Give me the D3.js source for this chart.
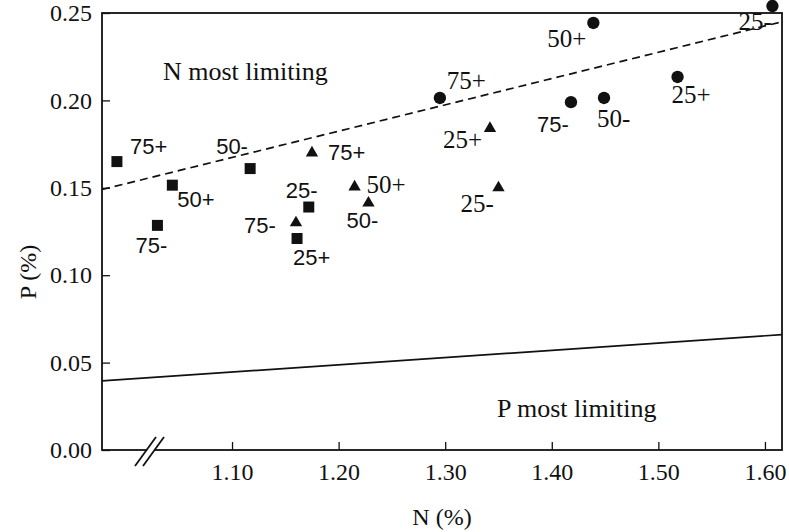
<!DOCTYPE html>
<html>
<head>
<meta charset="utf-8">
<script src="https://cdn.jsdelivr.net/npm/d3@7"></script>
<style>
	body { margin: 0; background: #fff; }
	svg text { fill: #111; }
</style>
</head>
<body>
<div id="chart"></div>
<script>
// data
const squareN = [0.992, 1.044, 1.030, 1.117, 1.172, 1.161]
const squareP = [0.165, 0.1515, 0.1285, 0.161, 0.139, 0.121]
const squareLabel = ['75+', '50+', '75-', '50-', '25-', '25+']

const triN = [1.175, 1.160, 1.215, 1.228, 1.342, 1.350]
const triP = [0.170, 0.130, 0.1505, 0.1413, 0.184, 0.150]
const triLabel = ['75+', '75-', '50+', '50-', '25+', '25-']

const circN = [1.295, 1.439, 1.418, 1.449, 1.518, 1.607]
const circP = [0.2014, 0.2443, 0.199, 0.2014, 0.2134, 0.254]
const circLabel = ['75+', '50+', '75-', '50-', '25+', '25-']

// boundary lines (N:P ratios)
const dashedN = [0.978, 1.616]
const dashedP = [0.149, 0.245]
const solidN = [0.978, 1.616]
const solidP = [0.0395, 0.066]

const xTicks = [1.10, 1.20, 1.30, 1.40, 1.50, 1.60]
const yTicks = [0, 0.05, 0.10, 0.15, 0.20, 0.25]

// label offsets (px) from each marker, keyed shape+label
const labelOffset = {
	'sq75+': [13, -8], 'sq50+': [5, 22], 'sq75-': [-22, 28], 'sq50-': [-34, -15], 'sq25-': [-23, -9], 'sq25+': [-4, 27],
	'tr75+': [16, 7], 'tr75-': [-52, 10], 'tr50+': [12, 6], 'tr50-': [-22, 25], 'tr25+': [-47, 20], 'tr25-': [-38, 24],
	'ci75+': [7, -9], 'ci50+': [-46, 24], 'ci75-': [-34, 30], 'ci50-': [-7, 29], 'ci25+': [-6, 26], 'ci25-': [-34, 24]
}
const serifLabels = ['tr50+', 'tr25+', 'tr25-', 'ci75+', 'ci50+', 'ci50-', 'ci25+', 'ci25-']

const width = 789
const height = 532
const margin = { left: 102, right: 7, top: 13, bottom: 82 }

const svg = d3.select('#chart').append('svg')
	.attr('width', width)
	.attr('height', height)

const x = d3.scaleLinear()
	.domain([0.978, 1.616])
	.range([margin.left, width - margin.right])

const y = d3.scaleLinear()
	.domain([0, 0.25])
	.range([height - margin.bottom, margin.top])

const serif = "'Liberation Serif', 'Times New Roman', serif"
const sans = "'Liberation Sans', Arial, sans-serif"

// axes
const xAxis = svg.append('g')
	.attr('transform', `translate(0,${y(0)})`)
	.call(d3.axisBottom(x).tickValues(xTicks).tickSizeInner(-8).tickSizeOuter(0).tickPadding(13).tickFormat(d3.format('.2f')))
xAxis.select('.domain').remove()

const yAxis = svg.append('g')
	.attr('transform', `translate(${x.range()[0]},0)`)
	.call(d3.axisLeft(y).tickValues(yTicks).tickSizeInner(-8).tickSizeOuter(0).tickPadding(10).tickFormat(d3.format('.2f')))
yAxis.select('.domain').remove()

svg.selectAll('.tick text')
	.style('font-family', serif)
	.style('font-size', '24px')
	.attr('fill', '#111')
svg.selectAll('.tick line').attr('stroke', '#111').attr('stroke-width', 1.3)

// frame
svg.append('rect')
	.attr('x', x.range()[0])
	.attr('y', y.range()[1])
	.attr('width', x.range()[1] - x.range()[0])
	.attr('height', y.range()[0] - y.range()[1])
	.attr('fill', 'none')
	.attr('stroke', '#111')
	.attr('stroke-width', 1.8)

// axis break marks
const bx = 150, by = y(0)
svg.append('polygon')
	.attr('points', `${bx - 14},${by + 15} ${bx + 6},${by - 13} ${bx + 14},${by - 13} ${bx - 6},${by + 15}`)
	.attr('fill', '#fff')
svg.selectAll('.brk')
	.data([-4, 4])
	.enter()
	.append('line')
	.attr('x1', d => bx + d - 11)
	.attr('y1', by + 16)
	.attr('x2', d => bx + d + 10)
	.attr('y2', by - 13)
	.attr('stroke', '#111')
	.attr('stroke-width', 1.8)

// boundary lines
const line = d3.line().x(d => x(d[0])).y(d => y(d[1]))
svg.append('path')
	.attr('d', line(d3.zip(dashedN, dashedP)))
	.attr('fill', 'none')
	.attr('stroke', '#111')
	.attr('stroke-width', 1.7)
	.attr('stroke-dasharray', '8,5')
svg.append('path')
	.attr('d', line(d3.zip(solidN, solidP)))
	.attr('fill', 'none')
	.attr('stroke', '#111')
	.attr('stroke-width', 1.7)

// markers and labels
const groups = [
	{ key: 'sq', n: squareN, p: squareP, lab: squareLabel, symbol: d3.symbolSquare, size: 121 },
	{ key: 'tr', n: triN, p: triP, lab: triLabel, symbol: d3.symbolTriangle, size: 66 },
	{ key: 'ci', n: circN, p: circP, lab: circLabel, symbol: d3.symbolCircle, size: 120 }
]

groups.forEach(g => {
	const pts = g.n.map((n, i) => ({ n: n, p: g.p[i], label: g.lab[i], id: g.key + g.lab[i] }))
	svg.append('g')
		.selectAll('path')
		.data(pts)
		.enter()
		.append('path')
		.attr('d', d3.symbol().type(g.symbol).size(g.size))
		.attr('transform', d => `translate(${x(d.n)},${y(d.p)})`)
		.attr('fill', '#111')

	svg.append('g')
		.selectAll('text')
		.data(pts)
		.enter()
		.append('text')
		.attr('x', d => x(d.n) + labelOffset[d.id][0])
		.attr('y', d => y(d.p) + labelOffset[d.id][1])
		.style('font-family', d => serifLabels.includes(d.id) ? serif : sans)
		.style('font-size', d => serifLabels.includes(d.id) ? '25px' : '22px')
		.text(d => d.label)
})

// region notes
svg.append('text')
	.attr('x', 163)
	.attr('y', 80)
	.style('font-family', serif)
	.style('font-size', '26px')
	.text('N most limiting')

svg.append('text')
	.attr('x', 497)
	.attr('y', 417)
	.style('font-family', serif)
	.style('font-size', '26px')
	.text('P most limiting')

// axis titles
svg.append('text')
	.attr('x', 442)
	.attr('y', 525)
	.attr('text-anchor', 'middle')
	.style('font-family', serif)
	.style('font-size', '24px')
	.text('N (%)')

svg.append('text')
	.attr('transform', 'translate(36,272) rotate(-90)')
	.attr('text-anchor', 'middle')
	.style('font-family', serif)
	.style('font-size', '24px')
	.text('P (%)')
</script>
</body>
</html>
